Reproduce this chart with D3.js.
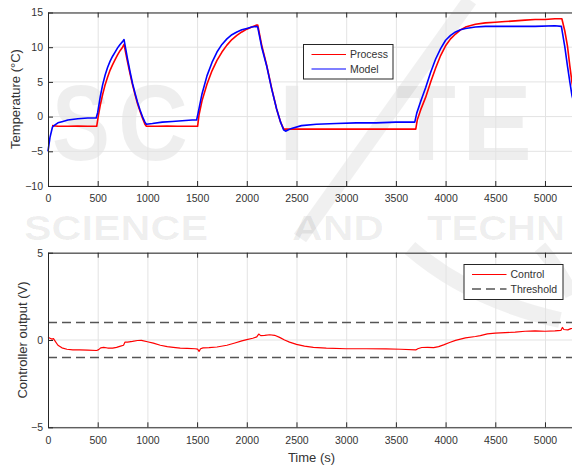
<!DOCTYPE html>
<html><head><meta charset="utf-8">
<script src="https://cdn.jsdelivr.net/npm/d3@7"></script>
<style>
html,body{margin:0;padding:0;background:#fff;}
svg{display:block;font-family:"Liberation Sans",Arial,Helvetica,sans-serif;}
</style></head>
<body>
<svg id="chart" width="572" height="466"></svg>
<script>
// ---------- data ----------
const xTicks = [0,500,1000,1500,2000,2500,3000,3500,4000,4500,5000];
const tempTicks = [-10,-5,0,5,10,15];
const ctrlTicks = [-5,0,5];

const processT = [40,100,200,300,400,490,505,525,550,575,600,625,650,675,700,725,750,765,780,800,825,850,875,900,925,950,975,990,1100,1200,1300,1400,1505,1520,1550,1600,1650,1700,1750,1800,1850,1900,1950,2000,2050,2100,2110,2150,2200,2250,2300,2340,2372,2500,2700,2900,3100,3300,3500,3700,3715,3750,3800,3850,3900,3950,4000,4050,4100,4150,4200,4300,4400,4500,4600,4700,4800,4900,5000,5100,5170,5200,5226,5250,5272,5300];
const processV = [-1.3,-1.4,-1.4,-1.35,-1.4,-1.4,0.0,1.6,3.2,4.6,5.7,6.7,7.5,8.2,8.9,9.5,10.0,10.4,9.3,7.9,6.2,4.6,3.2,1.9,0.8,-0.2,-1.1,-1.4,-1.4,-1.35,-1.4,-1.4,-1.4,0.3,2.3,4.7,6.6,8.1,9.3,10.3,11.1,11.7,12.2,12.6,12.9,13.2,13.2,10.3,7.4,4.1,1.1,-0.8,-1.8,-1.8,-1.8,-1.8,-1.8,-1.8,-1.8,-1.8,-0.5,1.0,2.8,5.0,7.0,8.8,10.2,11.2,11.9,12.5,12.9,13.3,13.5,13.6,13.7,13.8,13.9,14.0,14.0,14.1,14.1,12.3,10.2,7.3,4.9,3.0];

const modelT = [0,20,45,60,100,150,200,300,400,485,500,525,550,575,600,625,650,675,700,725,750,765,780,800,825,850,875,900,925,950,975,990,1050,1150,1250,1350,1450,1495,1510,1550,1600,1650,1700,1750,1800,1850,1900,1950,2000,2050,2100,2110,2150,2200,2250,2300,2340,2370,2390,2450,2550,2700,2900,3100,3300,3500,3690,3710,3750,3800,3850,3900,3950,4000,4050,4100,4150,4200,4300,4400,4500,4700,4900,5100,5165,5200,5226,5250,5272,5300];
const modelV = [-5.0,-3.0,-1.5,-1.3,-0.9,-0.7,-0.5,-0.3,-0.2,-0.2,0.6,2.8,4.6,6.0,7.1,8.0,8.7,9.3,9.9,10.4,10.8,11.1,9.9,8.3,6.5,4.8,3.4,2.1,1.0,0.0,-0.8,-1.1,-1.0,-0.8,-0.7,-0.6,-0.5,-0.5,0.5,3.3,5.9,7.8,9.3,10.4,11.2,11.8,12.2,12.5,12.7,12.9,13.0,12.9,10.0,7.3,4.0,1.1,-0.8,-1.9,-2.1,-1.7,-1.3,-1.1,-1.0,-0.9,-0.9,-0.8,-0.8,0.5,2.2,4.2,6.4,8.3,9.8,11.0,11.7,12.2,12.5,12.7,12.9,13.0,13.0,13.0,13.0,13.1,13.0,10.0,7.3,5.0,3.0,1.5];

const ctrlT = [0,20,40,55,70,100,140,190,250,320,400,490,510,530,560,600,650,690,730,760,775,800,850,900,940,1000,1060,1130,1200,1260,1330,1400,1480,1505,1520,1535,1560,1620,1700,1800,1880,1950,2000,2060,2100,2120,2140,2180,2230,2280,2330,2380,2430,2500,2580,2670,2800,3000,3200,3400,3550,3700,3720,3760,3820,3880,3930,3980,4040,4100,4200,4300,4350,4420,4500,4600,4700,4800,4900,5000,5100,5160,5175,5190,5230,5260,5300];
const ctrlV = [0.15,0.1,0.05,0.08,-0.05,-0.3,-0.45,-0.53,-0.56,-0.57,-0.58,-0.6,-0.55,-0.45,-0.42,-0.46,-0.47,-0.42,-0.35,-0.3,-0.12,-0.12,-0.08,-0.03,-0.02,-0.1,-0.18,-0.3,-0.38,-0.42,-0.46,-0.48,-0.5,-0.52,-0.65,-0.5,-0.45,-0.44,-0.4,-0.3,-0.17,-0.05,0.02,0.1,0.18,0.34,0.25,0.26,0.3,0.27,0.15,0.0,-0.12,-0.25,-0.35,-0.42,-0.47,-0.5,-0.5,-0.51,-0.53,-0.57,-0.5,-0.43,-0.42,-0.44,-0.38,-0.28,-0.14,-0.02,0.12,0.2,0.25,0.35,0.39,0.42,0.45,0.5,0.52,0.5,0.52,0.55,0.72,0.6,0.58,0.65,0.68];

const thresholds = [1, -1];
const tempLegend = ["Process","Model"];
const ctrlLegend = ["Control","Threshold"];

// ---------- drawing ----------
const svg = d3.select("#chart");
const gridCol = "#e3e3e3", axCol = "#262626", txtCol = "#333";
const x = d3.scaleLinear().domain([0,5300]).range([48, 574.8]);
const yT = d3.scaleLinear().domain([-10,15]).range([186,12.5]);
const yC = d3.scaleLinear().domain([-5,5]).range([427.3,252.7]);

// watermark (behind)
const wm = svg.append("g").attr("fill","#000").attr("fill-opacity",0.065);
[["S",52,58],["C",118,70],["I",280,24],["T",396,60],["E",462,70]].forEach(([c,px,w])=>{
  wm.append("text").attr("x",px).attr("y",160).attr("font-size",108).attr("font-weight","bold")
    .attr("textLength",w).attr("lengthAdjust","spacingAndGlyphs").text(c);
});
[["SCIENCE",24,184],["AND",292,92],["TECHN",427,138]].forEach(([w,px,len])=>{
  wm.append("text").attr("x",px).attr("y",240).attr("font-size",35).attr("font-weight","bold")
    .attr("textLength",len).attr("lengthAdjust","spacingAndGlyphs").text(w);
});
svg.append("path").attr("d","M470,0 L300,238").attr("stroke","#000").attr("stroke-opacity",0.06)
  .attr("stroke-width",15).attr("fill","none");
svg.append("path").attr("d","M410,248 Q470,300 560,320").attr("stroke","#000").attr("stroke-opacity",0.06)
  .attr("stroke-width",16).attr("fill","none");
svg.append("path").attr("d","M540,247 Q560,270 572,295").attr("stroke","#000").attr("stroke-opacity",0.06)
  .attr("stroke-width",14).attr("fill","none");

function panel(y, yTicks, top, bottom){
  const g = svg.append("g");
  g.selectAll(".vg").data(xTicks).join("line")
    .attr("x1",d=>x(d)+0.5).attr("x2",d=>x(d)+0.5).attr("y1",top).attr("y2",bottom)
    .attr("stroke",gridCol).attr("stroke-width",1);
  g.selectAll(".hg").data(yTicks).join("line")
    .attr("x1",x(0)).attr("x2",x(5300)).attr("y1",d=>y(d)).attr("y2",d=>y(d))
    .attr("stroke",gridCol).attr("stroke-width",1);
  return g;
}
function axes(y, yTicks, top, bottom){
  const b = svg.append("g").attr("transform",`translate(0,${bottom})`)
    .call(d3.axisBottom(x).tickValues(xTicks).tickFormat(d3.format("d")).tickSizeInner(-5).tickSizeOuter(0).tickPadding(9));
  const t = svg.append("g").attr("transform",`translate(0,${top})`)
    .call(d3.axisTop(x).tickValues(xTicks).tickSizeInner(-5).tickSizeOuter(0).tickFormat(""));
  const l = svg.append("g").attr("transform",`translate(${x(0)},0)`)
    .call(d3.axisLeft(y).tickValues(yTicks).tickFormat(d3.format("d")).tickSizeInner(-5).tickSizeOuter(0).tickPadding(5));
  [b,t,l].forEach(a=>{
    a.selectAll("path.domain").attr("stroke",axCol);
    a.selectAll(".tick line").attr("stroke",axCol);
    a.selectAll("text").attr("fill",txtCol).attr("font-size","10.5px")
      .attr("font-family",'"Liberation Sans",Arial,sans-serif');
  });
}

// top panel
panel(yT, tempTicks, 12.5, 186);
const lineT = d3.line().x(d=>x(d[0])).y(d=>yT(d[1]));
svg.append("path").datum(d3.zip(processT, processV)).attr("d",lineT)
  .attr("fill","none").attr("stroke","#ff0000").attr("stroke-width",1.6).attr("stroke-linejoin","round");
svg.append("path").datum(d3.zip(modelT, modelV)).attr("d",lineT)
  .attr("fill","none").attr("stroke","#0000ff").attr("stroke-width",1.6).attr("stroke-linejoin","round");
axes(yT, tempTicks, 12.5, 186);

// bottom panel
panel(yC, ctrlTicks, 252.7, 427.3);
svg.selectAll(".thr").data(thresholds).join("line")
  .attr("x1",x(0)).attr("x2",x(5300)).attr("y1",d=>yC(d)).attr("y2",d=>yC(d))
  .attr("stroke","#555").attr("stroke-width",1.5).attr("stroke-dasharray","9,5");
const lineC = d3.line().x(d=>x(d[0])).y(d=>yC(d[1]));
svg.append("path").datum(d3.zip(ctrlT, ctrlV)).attr("d",lineC)
  .attr("fill","none").attr("stroke","#ff0000").attr("stroke-width",1.2).attr("stroke-linejoin","round");
axes(yC, ctrlTicks, 252.7, 427.3);

// axis labels
svg.append("text").attr("transform","translate(20,99) rotate(-90)").attr("text-anchor","middle")
  .attr("font-size","13px").attr("fill",txtCol).text("Temperature (°C)");
svg.append("text").attr("transform","translate(27,340) rotate(-90)").attr("text-anchor","middle")
  .attr("font-size","13px").attr("fill",txtCol).text("Controller output (V)");
svg.append("text").attr("x",311.5).attr("y",462).attr("text-anchor","middle")
  .attr("font-size","13px").attr("fill",txtCol).text("Time (s)");

// legends
function legend(x0,y0,w,h,items){
  const g = svg.append("g");
  g.append("rect").attr("x",x0+0.5).attr("y",y0+0.5).attr("width",w).attr("height",h)
    .attr("fill","#fff").attr("stroke",axCol).attr("stroke-width",1);
  items.forEach((it,i)=>{
    const cy = y0 + 10.5 + i*14.5;
    g.append("line").attr("x1",x0+8.5).attr("x2",x0+43).attr("y1",cy).attr("y2",cy)
      .attr("stroke",it.color).attr("stroke-width",it.dash?1.5:1.2).attr("stroke-dasharray",it.dash||null);
    g.append("text").attr("x",x0+47).attr("y",cy+3.8).attr("font-size","10.5px").attr("fill",txtCol).text(it.label);
  });
}
legend(303,44,89.5,34.5,[{label:tempLegend[0],color:"#ff0000"},{label:tempLegend[1],color:"#0000ff"}]);
legend(463.5,264,99,35,[{label:ctrlLegend[0],color:"#ff0000"},{label:ctrlLegend[1],color:"#555",dash:"9,5"}]);
</script>
</body></html>
